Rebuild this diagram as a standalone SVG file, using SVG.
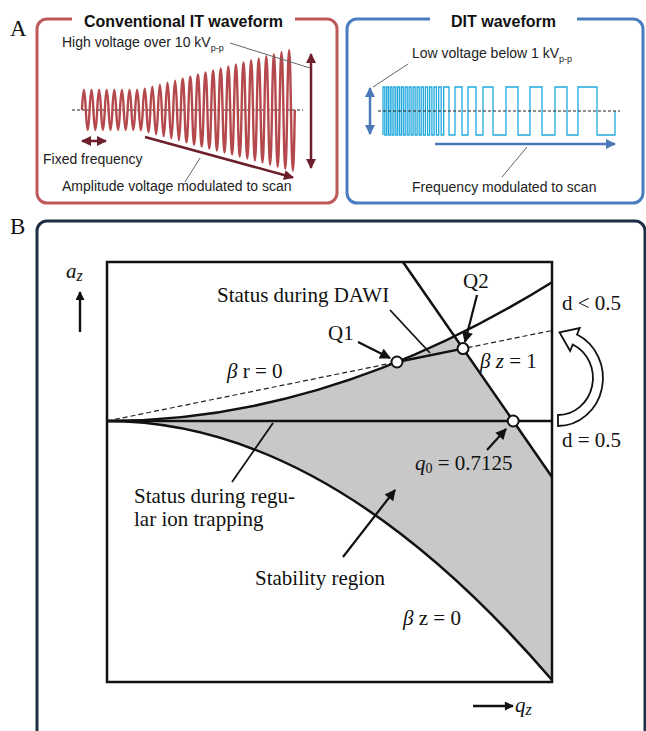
<svg xmlns="http://www.w3.org/2000/svg" width="646" height="731" viewBox="0 0 646 731">
<defs>
<style>
.sans{font-family:"Liberation Sans",Arial,sans-serif;font-size:14px;fill:#222}
.title{font-family:"Liberation Sans",Arial,sans-serif;font-size:16px;font-weight:bold;fill:#111}
.serif{font-family:"Liberation Serif","Times New Roman",serif;font-size:21px;fill:#111}
.lbl{font-family:"Liberation Serif","Times New Roman",serif;font-size:23px;fill:#111}
.lead{stroke:#666;stroke-width:1;fill:none}
.blk{stroke:#111;stroke-width:2.5;fill:none}
.ptr{stroke:#111;stroke-width:2.2;fill:none;marker-end:url(#ah)}
.pt{fill:#fff;stroke:#111;stroke-width:2}
</style>
<marker id="ah" viewBox="0 0 10 10" refX="9" refY="5" markerWidth="13" markerHeight="11" markerUnits="userSpaceOnUse" orient="auto"><path d="M0,0 L10,5 L0,10 z" fill="#111"/></marker>
<marker id="ahs" viewBox="0 0 10 10" refX="9" refY="5" markerWidth="11" markerHeight="9" markerUnits="userSpaceOnUse" orient="auto"><path d="M0,0 L10,5 L0,10 z" fill="#111"/></marker>
<marker id="ahr" viewBox="0 0 10 10" refX="9" refY="5" markerWidth="11" markerHeight="10" markerUnits="userSpaceOnUse" orient="auto-start-reverse"><path d="M0,0 L10,5 L0,10 z" fill="#6d1f2b"/></marker>
<marker id="ahb" viewBox="0 0 10 10" refX="9" refY="5" markerWidth="11" markerHeight="10" markerUnits="userSpaceOnUse" orient="auto-start-reverse"><path d="M0,0 L10,5 L0,10 z" fill="#4a78b8"/></marker>
</defs>
<rect width="646" height="731" fill="#fff"/>

<!-- Panel A -->
<text x="10" y="36" class="lbl">A</text>
<g id="conventional-it">
<rect x="37" y="19" width="300" height="184" rx="10" fill="none" stroke="#bf5a5a" stroke-width="3"/>
<rect x="72" y="10" width="223" height="18" fill="#fff"/>
<text x="183.5" y="27" class="title" text-anchor="middle">Conventional IT waveform</text>
<line x1="72" y1="110" x2="303" y2="110" stroke="#222" stroke-width="1" stroke-dasharray="3 2"/>
<path fill="none" stroke="#b5484c" stroke-width="2.4" d="M82,110 Q83.9,70 85.8,110 Q87.7,150 89.6,110 Q91.5,70 93.4,110 Q95.3,150 97.2,110 Q99.1,70 101,110 Q102.9,150 104.8,110 Q106.7,70 108.6,110 Q110.5,150 112.4,110 Q114.3,70 116.2,110 Q118.1,150 120,110 Q121.9,70 123.8,110 Q125.7,150 127.6,110 Q129.5,70 131.4,110 Q133.3,150 135.2,110 Q137.1,70 139,110 Q140.9,150.5 142.8,110 Q144.7,67.5 146.6,110 Q148.5,154.5 150.4,110 Q152.3,63.4 154.2,110 Q156.1,158.6 158,110 Q159.9,59.4 161.8,110 Q163.7,162.6 165.6,110 Q167.5,55.3 169.4,110 Q171.3,166.7 173.2,110 Q175.1,51.3 177,110 Q178.9,170.7 180.8,110 Q182.7,47.2 184.6,110 Q186.5,174.8 188.4,110 Q190.3,43.2 192.2,110 Q194.1,178.9 196,110 Q197.9,39.1 199.8,110 Q201.7,182.9 203.6,110 Q205.5,35.1 207.4,110 Q209.3,187 211.2,110 Q213.1,31 215,110 Q216.9,191 218.8,110 Q220.7,27 222.6,110 Q224.5,195.1 226.4,110 Q228.3,22.9 230.2,110 Q232.1,199.1 234,110 Q235.9,18.8 237.8,110 Q239.7,203.2 241.6,110 Q243.5,14.8 245.4,110 Q247.3,207.2 249.2,110 Q251.1,10.7 253,110 Q254.9,211.3 256.8,110 Q258.7,6.7 260.6,110 Q262.5,215.3 264.4,110 Q266.3,2.6 268.2,110 Q270.1,219.4 272,110 Q273.9,-1.4 275.8,110 Q277.7,223.4 279.6,110 Q281.5,-5.5 283.4,110 Q285.3,227.5 287.2,110 Q289.1,-9.5 291,110 Q292.9,231.5 294.8,110"/>
<line x1="311" y1="54" x2="311" y2="168" stroke="#6d1f2b" stroke-width="2.5" marker-start="url(#ahr)" marker-end="url(#ahr)"/>
<line x1="82" y1="141" x2="106" y2="141" stroke="#6d1f2b" stroke-width="2.5" marker-start="url(#ahr)" marker-end="url(#ahr)"/>
<line x1="145" y1="137" x2="293" y2="177.5" stroke="#6d1f2b" stroke-width="2.5" marker-end="url(#ahr)"/>
<line x1="230" y1="43" x2="310" y2="68" class="lead"/>
<line x1="200" y1="158" x2="185" y2="182" class="lead"/>
<text x="62" y="47" class="sans">High voltage over 10 kV<tspan font-size="9" dy="4">p-p</tspan></text>
<text x="43" y="164" class="sans">Fixed frequency</text>
<text x="62" y="191" class="sans">Amplitude voltage modulated to scan</text>
</g>

<g id="dit">
<rect x="347" y="19" width="296" height="184" rx="10" fill="none" stroke="#4a7dbf" stroke-width="3"/>
<rect x="430" y="10" width="147" height="18" fill="#fff"/>
<text x="503.5" y="27" class="title" text-anchor="middle">DIT waveform</text>
<path fill="none" stroke="#1fa9dd" stroke-width="1.3" d="M383,135 V87 H384.8 V135 H386.6 V87 H388.4 V135 H390.2 V87 H392 V135 H393.9 V87 H395.8 V135 H397.6 V87 H399.5 V135 H401.4 V87 H403.3 V135 H405.2 V87 H407.2 V135 H409.1 V87 H411.1 V135 H413.1 V87 H415.1 V135 H417.1 V87 H419.2 V135 H421.2 V87 H423.3 V135 H425.4 V87 H427.6 V135 H429.7 V87 H431.9 V135 H434.1 V87 H436.4 V135 H438.7 V87 H441.2 V135 H443.7 V87 H449 V135 H455 V87 H462 V135 H468 V87 H476 V135 H483 V87 H493 V135 H506 V87 H518 V135 H530 V87 H542 V135 H555 V87 H567 V135 H578 V87 H597 V135 H615 V111"/>
<line x1="378" y1="111" x2="620" y2="111" stroke="#222" stroke-width="1" stroke-dasharray="3 2"/>
<line x1="370" y1="88" x2="370" y2="134" stroke="#4a78b8" stroke-width="2.5" marker-start="url(#ahb)" marker-end="url(#ahb)"/>
<line x1="435" y1="144" x2="615" y2="144" stroke="#4a78b8" stroke-width="2.5" marker-end="url(#ahb)"/>
<line x1="408" y1="64" x2="373" y2="87" class="lead"/>
<line x1="527" y1="147" x2="502" y2="177" class="lead"/>
<text x="412" y="58" class="sans">Low voltage below 1 kV<tspan font-size="9" dy="4">p-p</tspan></text>
<text x="412" y="192" class="sans">Frequency modulated to scan</text>
</g>

<!-- Panel B -->
<text x="10" y="234" class="lbl">B</text>
<rect x="37" y="221" width="608" height="530" rx="10" fill="none" stroke="#1c2f45" stroke-width="3"/>

<g id="stability-region">
<path d="M107,421 Q280.75,421 454.5,336.35 L552,477 L552,680 Q329.5,421 107,421 Z" fill="#c8c8c8"/>
</g>

<g id="connectors">
<rect x="107" y="262" width="445" height="420" class="blk"/>
<line x1="107" y1="421" x2="552" y2="421" class="blk"/>
<path d="M107,421 Q329.5,421 552,282.2" class="blk"/>
<path d="M107,421 Q329.5,421 552,680" class="blk"/>
<line x1="403" y1="262" x2="552" y2="477" class="blk"/>
<line x1="107" y1="421" x2="552" y2="330.5" stroke="#222" stroke-width="1.2" stroke-dasharray="5 3"/>
<line x1="397" y1="362" x2="463" y2="348.6" class="blk"/>
<line x1="390" y1="310" x2="430" y2="353" stroke="#111" stroke-width="1.8"/>
<line x1="232" y1="482" x2="273" y2="423" stroke="#111" stroke-width="1.8"/>
<line x1="358" y1="342" x2="390" y2="358" class="ptr"/>
<line x1="477" y1="295" x2="465" y2="342" class="ptr"/>
<line x1="487" y1="450" x2="506" y2="429" class="ptr"/>
<line x1="343" y1="557" x2="395" y2="490" class="ptr"/>
<line x1="80" y1="332" x2="80" y2="292" stroke="#111" stroke-width="2.4" marker-end="url(#ahs)"/>
<line x1="473" y1="706" x2="513" y2="706" stroke="#111" stroke-width="2.4" marker-end="url(#ahs)"/>
<path d="M558,426 A45,48 0 0 0 577,334.5 L579.7,328 L559.5,332.3 L570.1,351 L572.8,344.5 A35,37 0 0 1 558,415 Z" fill="#fff" stroke="#111" stroke-width="1.8" stroke-linejoin="miter"/>
</g>

<g id="Q1"><circle cx="397" cy="362" r="5.5" class="pt"/><text x="328" y="340" class="serif">Q1</text></g>
<g id="Q2"><circle cx="463" cy="348.6" r="5.5" class="pt"/><text x="463" y="288" class="serif">Q2</text></g>
<g id="q0"><circle cx="513.2" cy="421" r="5.5" class="pt"/><text x="415" y="470" class="serif"><tspan font-style="italic">q</tspan><tspan font-size="14" dy="3">0</tspan><tspan dy="-3"> = 0.7125</tspan></text></g>

<g id="labels">
<text x="217" y="302" class="serif">Status during DAWI</text>
<text x="227" y="378" class="serif"><tspan font-style="italic">β</tspan> r = 0</text>
<text x="480" y="368" class="serif"><tspan font-style="italic">β z</tspan> = 1</text>
<text x="562" y="310" class="serif">d &lt; 0.5</text>
<text x="562" y="447" class="serif">d = 0.5</text>
<text x="134" y="503" class="serif" font-size="20">Status during regu-</text>
<text x="134" y="526" class="serif" font-size="20">lar ion trapping</text>
<text x="255" y="585" class="serif" font-size="22">Stability region</text>
<text x="403" y="625" class="serif"><tspan font-style="italic">β</tspan> z = 0</text>
<text x="66" y="278" class="serif" font-size="27"><tspan font-style="italic">a</tspan><tspan font-style="italic" font-size="16" dy="3">z</tspan></text>
<text x="515" y="712" class="serif" font-size="27"><tspan font-style="italic">q</tspan><tspan font-style="italic" font-size="16" dy="3">z</tspan></text>
</g>
</svg>
